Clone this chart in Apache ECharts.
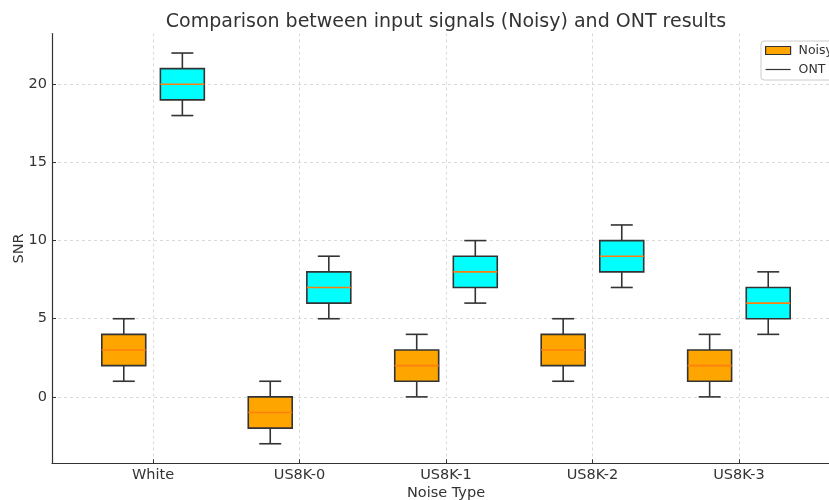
<!DOCTYPE html>
<html>
<head>
<meta charset="utf-8">
<title>SNR comparison: Noisy vs ONT</title>
<script src="https://cdn.jsdelivr.net/npm/echarts@6/dist/echarts.min.js"></script>
<style>
  html, body { margin: 0; padding: 0; background: #fff; }
  #chart { width: 829px; height: 500px; }
</style>
</head>
<body>
<div id="chart"></div>
<script>
// Noise types on the horizontal axis
const categories = ['White', 'US8K-0', 'US8K-1', 'US8K-2', 'US8K-3'];

// Box statistics per noise type: [whisker low, Q1, median, Q3, whisker high]
const noisyStats = [
  [1, 2, 3, 4, 5],
  [-3, -2, -1, 0, 1],
  [0, 1, 2, 3, 4],
  [1, 2, 3, 4, 5],
  [0, 1, 2, 3, 4]
];
const ontStats = [
  [18, 19, 20, 21, 22],
  [5, 6, 7, 8, 9],
  [6, 7, 8, 9, 10],
  [7, 8, 9, 10, 11],
  [4, 5, 6, 7, 8]
];

// Y tick labels
const yTicks = [0, 5, 10, 15, 20];

const FONT = 'DejaVu Sans';
const TEXT = '#333';
const EDGE = '#333';
const MEDIAN = '#ff7f0e';
const BOX_WIDTH = 0.3;   // in category units
const GROUP_OFFSET = 0.2;

function toRows(stats) {
  return stats.map((s, i) => [i].concat(s));
}

function boxRenderer(offset, fill) {
  return function (params, api) {
    const x = api.value(0) + offset;
    const lo = api.value(1), q1 = api.value(2), med = api.value(3),
          q3 = api.value(4), hi = api.value(5);
    const half = BOX_WIDTH / 2, cap = BOX_WIDTH / 4;
    const a = api.coord([x - half, q3]);
    const b = api.coord([x + half, q1]);
    const lineStyle = { stroke: EDGE, lineWidth: 1.6 };
    const seg = (x1, y1, x2, y2, style) => {
      const p1 = api.coord([x1, y1]), p2 = api.coord([x2, y2]);
      return { type: 'line', shape: { x1: p1[0], y1: p1[1], x2: p2[0], y2: p2[1] }, style: style };
    };
    return {
      type: 'group',
      children: [
        seg(x, lo, x, q1, lineStyle),
        seg(x, q3, x, hi, lineStyle),
        seg(x - cap, lo, x + cap, lo, lineStyle),
        seg(x - cap, hi, x + cap, hi, lineStyle),
        {
          type: 'rect',
          shape: { x: a[0], y: a[1], width: b[0] - a[0], height: b[1] - a[1] },
          style: { fill: fill, stroke: EDGE, lineWidth: 1.6 }
        },
        seg(x - half, med, x + half, med, { stroke: MEDIAN, lineWidth: 1.6 })
      ]
    };
  };
}

const chart = echarts.init(document.getElementById('chart'), null, { renderer: 'canvas' });

chart.setOption({
  backgroundColor: '#fff',
  animation: false,
  title: {
    text: 'Comparison between input signals (Noisy) and ONT results',
    left: 441,
    textAlign: 'center',
    top: 8,
    textStyle: { fontFamily: FONT, fontSize: 19, fontWeight: 'normal', color: TEXT }
  },
  legend: {
    orient: 'vertical',
    left: 761,
    top: 41,
    padding: [3, 6, 4, 4],
    itemWidth: 25,
    itemHeight: 8,
    itemGap: 6,
    borderColor: '#ccc',
    borderWidth: 1,
    borderRadius: 3,
    backgroundColor: 'rgba(255,255,255,0.85)',
    textStyle: { fontFamily: FONT, fontSize: 12.5, color: TEXT, padding: [0, 0, 0, 3] },
    data: [
      { name: 'Noisy', icon: 'rect', itemStyle: { color: '#FFA500', borderColor: EDGE, borderWidth: 1.2 } },
      { name: 'ONT', icon: 'path://M0,0M0,8M0,3.4L25,3.4L25,4.6L0,4.6Z', itemStyle: { color: EDGE, borderWidth: 0 } }
    ]
  },
  grid: { left: 52, right: -11, top: 33.5, bottom: 36.7, containLabel: false, outerBoundsMode: 'none' },
  xAxis: {
    type: 'value',
    min: -0.69,
    max: 4.69,
    name: 'Noise Type',
    nameLocation: 'middle',
    nameGap: 22,
    nameMoveOverlap: false,
    nameTextStyle: { fontFamily: FONT, fontSize: 14.5, color: TEXT },
    axisLine: { show: true, onZero: false, lineStyle: { color: EDGE, width: 1.2 } },
    axisTick: { show: true, inside: true, length: 4, customValues: [0, 1, 2, 3, 4], lineStyle: { color: EDGE } },
    axisLabel: {
      customValues: [0, 1, 2, 3, 4],
      formatter: v => categories[Math.round(v)] || '',
      fontFamily: FONT, fontSize: 14.5, color: TEXT, margin: 4
    },
    splitLine: { show: true, lineStyle: { color: '#d0d0d0', type: [3, 3], width: 0.8 } }
  },
  yAxis: {
    type: 'value',
    min: -4.25,
    max: 23.25,
    name: 'SNR',
    nameLocation: 'middle',
    nameGap: 25,
    nameMoveOverlap: false,
    nameTextStyle: { fontFamily: FONT, fontSize: 14.5, color: TEXT },
    axisLine: { show: true, onZero: false, lineStyle: { color: EDGE, width: 1.2 } },
    axisTick: { show: true, inside: true, length: 4, customValues: yTicks, lineStyle: { color: EDGE } },
    axisLabel: { customValues: yTicks, fontFamily: FONT, fontSize: 14.5, color: TEXT, margin: 5 },
    splitLine: { show: true, lineStyle: { color: '#d0d0d0', type: [3, 3], width: 0.8 } }
  },
  series: [
    {
      name: 'Noisy',
      type: 'custom',
      renderItem: boxRenderer(-GROUP_OFFSET, '#FFA500'),
      encode: { x: 0, y: [1, 2, 3, 4, 5] },
      itemStyle: { color: '#FFA500' },
      data: toRows(noisyStats)
    },
    {
      name: 'ONT',
      type: 'custom',
      renderItem: boxRenderer(GROUP_OFFSET, '#00FFFF'),
      encode: { x: 0, y: [1, 2, 3, 4, 5] },
      itemStyle: { color: '#00FFFF' },
      data: toRows(ontStats)
    }
  ]
});
</script>
</body>
</html>
